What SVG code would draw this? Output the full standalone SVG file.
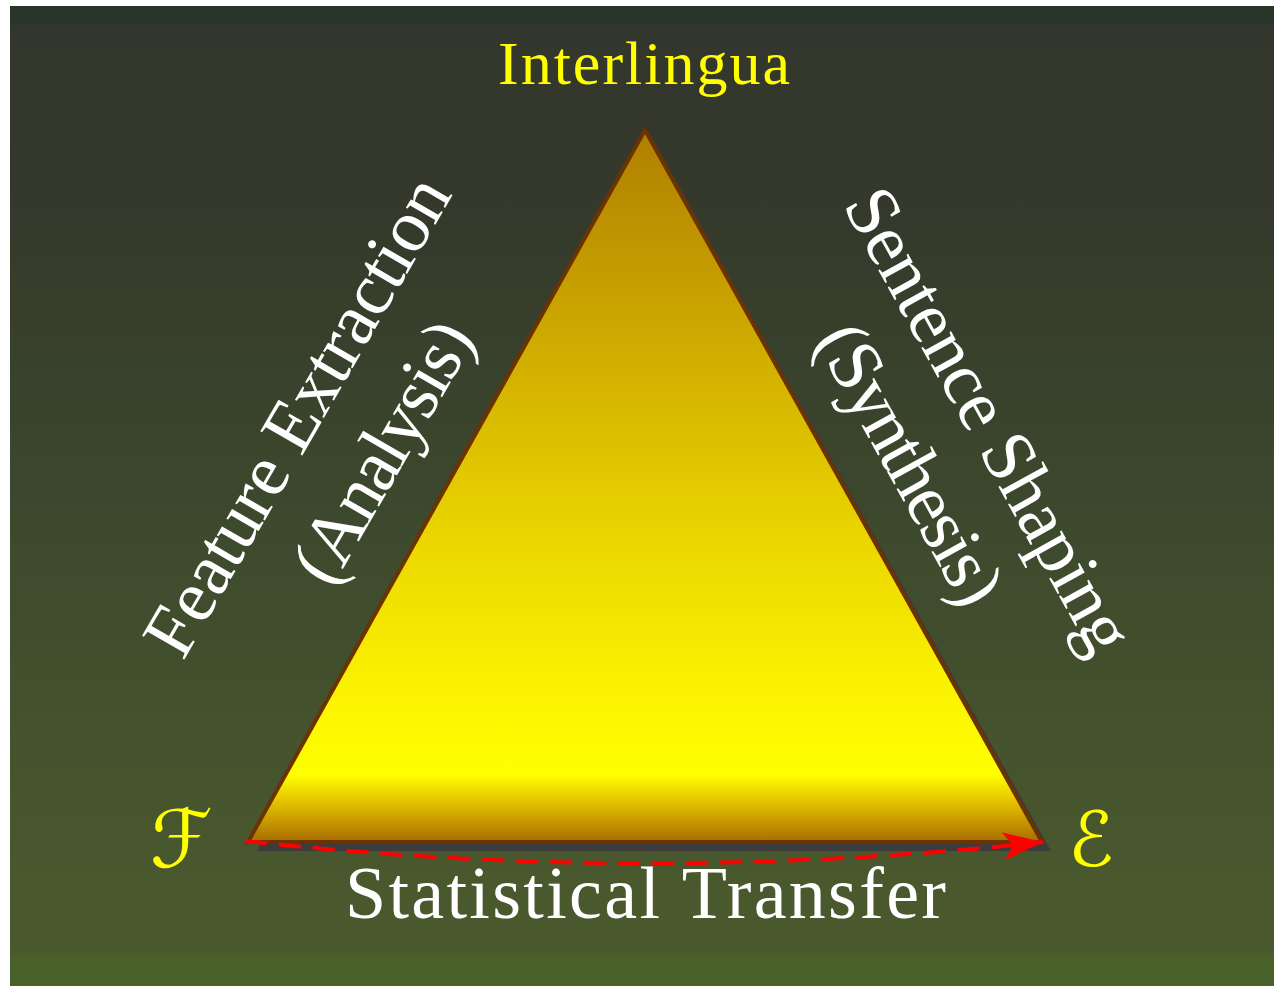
<svg xmlns="http://www.w3.org/2000/svg" width="1274" height="986" viewBox="0 0 1274 986">
  <defs>
    <linearGradient id="bg" gradientUnits="userSpaceOnUse" x1="0" y1="6" x2="0" y2="986">
      <stop offset="0" stop-color="#2a3529"/>
      <stop offset="0.017" stop-color="#2a3529"/>
      <stop offset="0.02" stop-color="#33362c"/>
      <stop offset="0.2" stop-color="#34392b"/>
      <stop offset="0.5" stop-color="#3c482d"/>
      <stop offset="0.8" stop-color="#47552e"/>
      <stop offset="0.968" stop-color="#4b5a2d"/>
      <stop offset="0.971" stop-color="#4a6129"/>
      <stop offset="1" stop-color="#4a6129"/>
    </linearGradient>
    <linearGradient id="tri" gradientUnits="userSpaceOnUse" x1="0" y1="130" x2="0" y2="842">
      <stop offset="0" stop-color="#b07f00"/>
      <stop offset="0.24" stop-color="#c9a200"/>
      <stop offset="0.59" stop-color="#ecd800"/>
      <stop offset="0.8" stop-color="#fcf400"/>
      <stop offset="0.905" stop-color="#ffff00"/>
      <stop offset="0.94" stop-color="#e8c800"/>
      <stop offset="1" stop-color="#a86c00"/>
    </linearGradient>
    <marker id="arrow" markerUnits="userSpaceOnUse" markerWidth="42" markerHeight="30" refX="40" refY="15" orient="auto">
      <path d="M0,1 L40,15 L0,29 L10,15 z" fill="#ff0000"/>
    </marker>
  </defs>
  <style>
    .serif { font-family: "Liberation Serif", "Times New Roman", serif; }
    .white { fill: #ffffff; }
    .yellow { fill: #ffff00; }
    .script { font-family: "DejaVu Sans", "DejaVu Serif", serif; fill: #ffff00; }
  </style>

  <rect x="0" y="0" width="1274" height="986" fill="#ffffff"/>
  <rect x="10" y="6" width="1264" height="980" fill="url(#bg)"/>

  <g id="triangle">
    <polygon points="653,139 257,851 1051,851" fill="#3c3c3c"/>
    <polygon points="645,130 248,842 1042,842" fill="url(#tri)" stroke="#6b3300" stroke-width="4" stroke-linejoin="miter"/>
  </g>

  <g id="connectors">
    <path d="M245,841 Q645,885 1043,842" fill="none" stroke="#ff0000" stroke-width="4" stroke-dasharray="22,12" marker-end="url(#arrow)"/>
  </g>

  <g id="interlingua">
    <text class="serif yellow" x="498" y="84" font-size="62" textLength="292" lengthAdjust="spacing">Interlingua</text>
  </g>

  <g id="source-F">
    <text class="script" x="150" y="867" font-size="80" font-style="italic">ℱ</text>
  </g>

  <g id="target-E">
    <text class="script" x="1068" y="866" font-size="76" font-style="italic">ℰ</text>
  </g>

  <g id="analysis-label" transform="translate(318,428) rotate(-60)">
    <text class="serif white" x="0" y="0" font-size="74" text-anchor="middle" textLength="540" lengthAdjust="spacing">Feature Extraction</text>
    <text class="serif white" x="12" y="92" font-size="74" text-anchor="middle" textLength="290" lengthAdjust="spacing">(Analysis)</text>
  </g>

  <g id="synthesis-label" transform="translate(968,432) rotate(61)">
    <text class="serif white" x="0" y="0" font-size="74" text-anchor="middle" textLength="519" lengthAdjust="spacing">Sentence Shaping</text>
    <text class="serif white" x="0" y="90" font-size="74" text-anchor="middle" textLength="310" lengthAdjust="spacing">(Synthesis)</text>
  </g>

  <g id="transfer-label">
    <text class="serif white" x="345" y="918" font-size="74" textLength="601" lengthAdjust="spacing">Statistical Transfer</text>
  </g>
</svg>
